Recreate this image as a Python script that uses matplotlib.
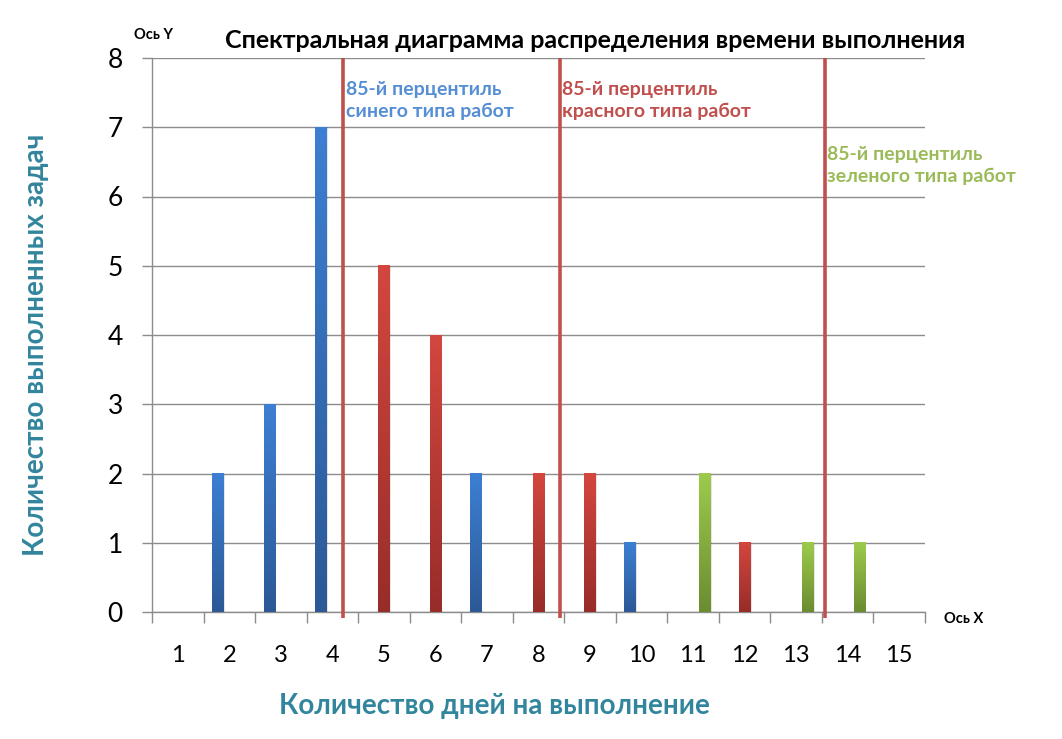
import numpy as np
import matplotlib
matplotlib.use("Agg")
import matplotlib.pyplot as plt
from matplotlib.colors import LinearSegmentedColormap

plt.rcParams['font.family'] = ['Lato', 'DejaVu Sans']

# ---- data ----
categories = list(range(1, 16))
blue_counts = [0, 2, 3, 7, 0, 0, 2, 0, 0, 1, 0, 0, 0, 0, 0]
red_counts = [0, 0, 0, 0, 5, 4, 0, 2, 2, 0, 0, 1, 0, 0, 0]
green_counts = [0, 0, 0, 0, 0, 0, 0, 0, 0, 0, 2, 0, 1, 1, 0]
percentile_positions = [4.21, 8.41, 13.55]
percentile_labels = ["85-й перцентиль\nсинего типа работ",
                     "85-й перцентиль\nкрасного типа работ",
                     "85-й перцентиль\nзеленого типа работ"]
y_ticks = list(range(0, 9))

title = "Спектральная диаграмма распределения времени выполнения"
x_title = "Количество дней на выполнение"
y_title = "Количество выполненных задач"

# ---- style ----
W, H = 1062, 739
fig = plt.figure(figsize=(W / 100, H / 100), dpi=100)
ax = fig.add_axes([152 / W, 127 / H, 773 / W, 554 / H])

series = [
    (blue_counts, -0.225, ("#3D7FD3", "#2C5996")),
    (red_counts, 0.0, ("#D3473F", "#982C29")),
    (green_counts, 0.225, ("#9DCB4C", "#6B8C31")),
]
bw = 0.22
x = np.array(categories, dtype=float)
grad = np.linspace(1, 0, 256).reshape(-1, 1)
for vals, off, (top_c, bot_c) in series:
    cmap = LinearSegmentedColormap.from_list("g", [bot_c, top_c])
    bars = ax.bar(x + off, vals, width=bw, color=top_c, zorder=3, linewidth=0)
    for b in bars:
        h = b.get_height()
        if h <= 0:
            continue
        bx = b.get_x()
        w = b.get_width()
        # soft shadow
        ax.bar(bx + w / 2 + 0.025, h, width=w, bottom=0, color="#000000",
               alpha=0.10, zorder=2.5, linewidth=0)
        ax.imshow(grad, extent=[bx, bx + w, 0, h], aspect="auto", cmap=cmap,
                  zorder=3.5, interpolation="bilinear", vmin=0, vmax=1)

ax.set_xlim(0.5, 15.5)
ax.set_ylim(0, 8)

# grid
ax.set_yticks(y_ticks)
ax.yaxis.grid(True, color="#8C8C8C", linewidth=1.0, zorder=1)
ax.set_axisbelow(True)

ax.set_xticks(categories)
ax.set_xticklabels([str(c) for c in categories])
ax.set_xticks(np.arange(0.5, 16, 1.0), minor=True)
ax.tick_params(axis="x", which="major", length=0, pad=24, labelsize=17)
ax.tick_params(axis="x", which="minor", length=8, width=1, color="#8C8C8C")
ax.tick_params(axis="y", which="major", length=7, width=1, color="#8C8C8C",
               pad=14, labelsize=19)

for s in ["top", "right"]:
    ax.spines[s].set_visible(False)
for s in ["left", "bottom"]:
    ax.spines[s].set_color("#8C8C8C")
    ax.spines[s].set_linewidth(1.0)

# percentile lines
text_colors = ["#558ED5", "#C0504D", "#9BBB59"]
text_y = [7.39, 7.39, 6.45]
for xp, lab, tc, ty in zip(percentile_positions, percentile_labels, text_colors, text_y):
    ax.plot([xp, xp], [-0.08, 8], color="#C0504D", linewidth=2.6, zorder=4,
            clip_on=False, solid_capstyle="butt")
    ax.text(xp + 0.05, ty, lab, color=tc, fontsize=14, fontweight="bold",
            ha="left", va="center", linespacing=1.3, zorder=5)

# titles
fig.text(595 / W, 1 - 40 / H, title, ha="center", va="center",
         fontsize=18, fontweight="bold", color="black")
fig.text(154 / W, 1 - 35 / H, "Ось Y", ha="center", va="center",
         fontsize=10.5, fontweight="bold", color="black")
fig.text(964 / W, 1 - 619 / H, "Ось X", ha="center", va="center",
         fontsize=10.5, fontweight="bold", color="black")
fig.text(494 / W, 1 - 706 / H, x_title, ha="center", va="center",
         fontsize=20, fontweight="bold", color="#31859C")
fig.text(36 / W, 1 - 345 / H, y_title, ha="center", va="center", rotation=90,
         fontsize=20, fontweight="bold", color="#31859C")

fig.savefig("out.png", dpi=100)
